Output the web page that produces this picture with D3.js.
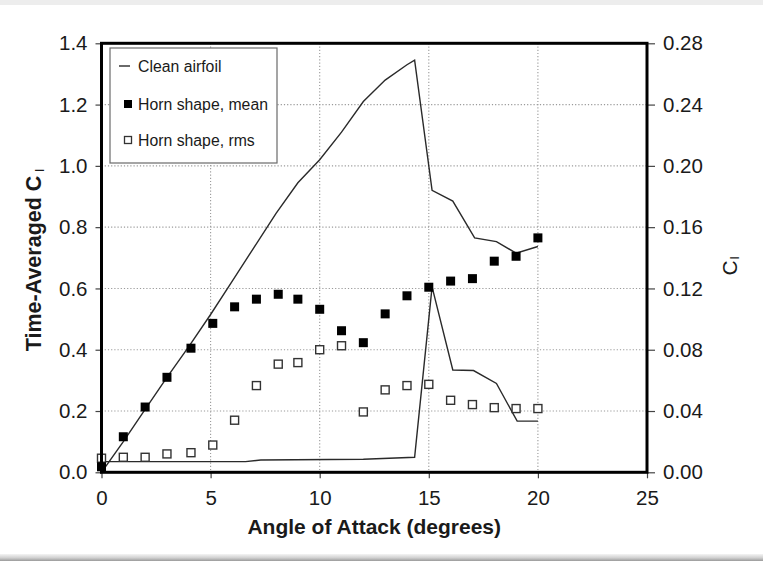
<!DOCTYPE html>
<html>
<head>
<meta charset="utf-8">
<script src="https://cdn.jsdelivr.net/npm/d3@7"></script>
<style>
  html, body { margin: 0; padding: 0; background: #fff; }
  svg { display: block; }
  text { font-family: "Liberation Sans", Arial, sans-serif; fill: #1a1a1a; }
</style>
</head>
<body>
<svg id="chart" width="763" height="561"></svg>
<script>
// Clean airfoil, time-averaged lift coefficient (left axis)
const cleanMeanAlpha = [0, 1, 2, 3, 4, 5, 6, 7, 8, 9, 10, 11, 12, 13, 14, 14.35, 15.15, 16.1, 17.1, 18.1, 19, 20];
const cleanMeanCl    = [0, 0.10, 0.205, 0.31, 0.41, 0.515, 0.625, 0.735, 0.845, 0.945, 1.02, 1.11, 1.21, 1.28, 1.33, 1.345, 0.92, 0.885, 0.765, 0.753, 0.715, 0.737];

// Clean airfoil, rms lift coefficient (right axis)
const cleanRmsAlpha = [0, 6.6, 7.3, 12, 14.35, 15.15, 16.1, 17.05, 18.1, 19.05, 20];
const cleanRmsCl    = [0.007, 0.007, 0.008, 0.0085, 0.0098, 0.121, 0.0668, 0.0664, 0.058, 0.0334, 0.0334];

// Horn-shaped ice accretion, measured angles
const hornAlpha = [0, 1, 2, 3, 4.1, 5.1, 6.1, 7.1, 8.1, 9, 10, 11, 12, 13, 14, 15, 16, 17, 18, 19, 20];
// mean Cl (left axis)
const hornMean  = [0.018, 0.116, 0.213, 0.31, 0.405, 0.486, 0.54, 0.565, 0.581, 0.565, 0.532, 0.462, 0.423, 0.517, 0.576, 0.604, 0.624, 0.632, 0.689, 0.705, 0.765];
// rms Cl (right axis)
const hornRms   = [0.0092, 0.0098, 0.0098, 0.012, 0.0128, 0.0178, 0.034, 0.0566, 0.0706, 0.0716, 0.080, 0.0826, 0.0394, 0.0538, 0.0566, 0.0574, 0.047, 0.0442, 0.0422, 0.0416, 0.0416];

// Axis ticks
const xTicks      = [0, 5, 10, 15, 20, 25];
const leftTicks   = [0, 0.2, 0.4, 0.6, 0.8, 1.0, 1.2, 1.4];
const rightTicks  = [0, 0.04, 0.08, 0.12, 0.16, 0.20, 0.24, 0.28];

const legendItems = ["Clean airfoil", "Horn shape, mean", "Horn shape, rms"];

const svg = d3.select("#chart");
const W = 763, H = 561;
const plot = { left: 101.5, right: 647, top: 43.3, bottom: 472.3 };

// Thin grey bands along the top and bottom edges of the page
svg.append("rect").attr("x", 0).attr("y", 0).attr("width", W).attr("height", 5).attr("fill", "#ededed");
const grad = svg.append("defs").append("linearGradient").attr("id", "bottomBand").attr("x1", 0).attr("x2", 0).attr("y1", 0).attr("y2", 1);
grad.append("stop").attr("offset", "0%").attr("stop-color", "#f4f4f4");
grad.append("stop").attr("offset", "55%").attr("stop-color", "#d0d0d0");
grad.append("stop").attr("offset", "100%").attr("stop-color", "#9a9a9a");
svg.append("rect").attr("x", 0).attr("y", 554).attr("width", W).attr("height", 7).attr("fill", "url(#bottomBand)");

const x  = d3.scaleLinear().domain([0, 25]).range([plot.left, plot.right]);
const yL = d3.scaleLinear().domain([0, 1.4]).range([plot.bottom, plot.top]);
const yR = d3.scaleLinear().domain([0, 0.28]).range([plot.bottom, plot.top]);

// Dotted grid
const grid = svg.append("g").attr("stroke", "#9a9a9a").attr("stroke-width", 1.1).attr("stroke-dasharray", "1.2,2");
grid.selectAll("line.h").data(leftTicks.filter(d => d > 0 && d < 1.4)).join("line")
  .attr("x1", plot.left).attr("x2", plot.right)
  .attr("y1", d => yL(d)).attr("y2", d => yL(d));
grid.selectAll("line.v").data(xTicks.filter(d => d > 0 && d < 25)).join("line")
  .attr("x1", d => x(d)).attr("x2", d => x(d))
  .attr("y1", plot.top).attr("y2", plot.bottom);

// Axes
function styleAxis(g) {
  g.select(".domain").remove();
  g.selectAll(".tick line").attr("stroke", "#444").attr("stroke-width", 1.2);
  g.selectAll(".tick text").attr("font-size", 20.5).attr("fill", "#1a1a1a")
    .style("font-family", "'Liberation Sans', Arial, sans-serif");
}
svg.append("g").attr("transform", `translate(${plot.left},0)`)
  .call(d3.axisLeft(yL).tickValues(leftTicks).tickFormat(d3.format(".1f")).tickSize(6).tickPadding(8))
  .call(styleAxis);
svg.append("g").attr("transform", `translate(${plot.right},0)`)
  .call(d3.axisRight(yR).tickValues(rightTicks).tickFormat(d3.format(".2f")).tickSize(8).tickPadding(8))
  .call(styleAxis);
svg.append("g").attr("transform", `translate(0,${plot.bottom})`)
  .call(d3.axisBottom(x).tickValues(xTicks).tickFormat(d3.format("d")).tickSize(6).tickPadding(12))
  .call(styleAxis);

// Clean airfoil curves
const lineL = d3.line().x(d => x(d[0])).y(d => yL(d[1]));
const lineR = d3.line().x(d => x(d[0])).y(d => yR(d[1]));
svg.append("path").datum(d3.zip(cleanMeanAlpha, cleanMeanCl))
  .attr("d", lineL).attr("fill", "none").attr("stroke", "#2a2a2a").attr("stroke-width", 1.4);
svg.append("path").datum(d3.zip(cleanRmsAlpha, cleanRmsCl))
  .attr("d", lineR).attr("fill", "none").attr("stroke", "#2a2a2a").attr("stroke-width", 1.4);

// Horn-shape markers
const S = 9, So = 8;
svg.append("g").selectAll("rect").data(d3.zip(hornAlpha, hornRms)).join("rect")
  .attr("x", d => x(d[0]) - So / 2).attr("y", d => yR(d[1]) - So / 2)
  .attr("width", So).attr("height", So)
  .attr("fill", "#fff").attr("stroke", "#333").attr("stroke-width", 1.4);
svg.append("g").selectAll("rect").data(d3.zip(hornAlpha, hornMean)).join("rect")
  .attr("x", d => x(d[0]) - S / 2).attr("y", d => yL(d[1]) - S / 2)
  .attr("width", S).attr("height", S).attr("fill", "#000");

// Plot frame
svg.append("rect").attr("x", plot.left).attr("y", plot.top)
  .attr("width", plot.right - plot.left).attr("height", plot.bottom - plot.top)
  .attr("fill", "none").attr("stroke", "#000").attr("stroke-width", 3);

// Legend
const lg = svg.append("g");
lg.append("rect").attr("x", 110).attr("y", 48).attr("width", 167).attr("height", 115)
  .attr("fill", "#fff").attr("stroke", "#6a6a6a").attr("stroke-width", 1.2);
const rowY = [66, 104, 140];
lg.append("line").attr("x1", 119).attr("x2", 130).attr("y1", rowY[0]).attr("y2", rowY[0])
  .attr("stroke", "#2a2a2a").attr("stroke-width", 1.4);
lg.append("rect").attr("x", 124).attr("y", rowY[1] - 4).attr("width", 8).attr("height", 8).attr("fill", "#000");
lg.append("rect").attr("x", 124.5).attr("y", rowY[2] - 3.5).attr("width", 7).attr("height", 7)
  .attr("fill", "#fff").attr("stroke", "#333").attr("stroke-width", 1.3);
lg.selectAll("text").data(legendItems).join("text")
  .attr("x", 138).attr("y", (d, i) => rowY[i] + 5.8)
  .attr("font-size", 15.8).text(d => d);

// Axis titles
svg.append("text").attr("x", (plot.left + plot.right) / 2).attr("y", 534)
  .attr("text-anchor", "middle").attr("font-size", 21).attr("font-weight", "bold")
  .text("Angle of Attack (degrees)");

const yt = svg.append("text").attr("transform", "translate(41,260) rotate(-90)")
  .attr("text-anchor", "middle").attr("font-size", 21.5).attr("font-weight", "bold");
yt.append("tspan").text("Time-Averaged C");
yt.append("tspan").attr("dx", 4).attr("dy", 3).attr("font-size", 13).attr("font-weight", "normal").text("l");

const yr = svg.append("text").attr("transform", "translate(737,266) rotate(-90)")
  .attr("text-anchor", "middle").attr("font-size", 21);
yr.append("tspan").text("C");
yr.append("tspan").attr("dx", 1).attr("dy", 2).attr("font-size", 13).text("l");
</script>
</body>
</html>
